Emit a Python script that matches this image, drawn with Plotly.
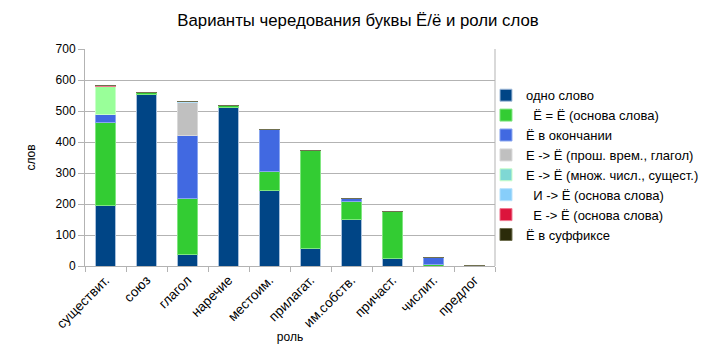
import plotly.graph_objects as go

categories = ["существит.", "союз", "глагол", "наречие", "местоим.", "прилагат.",
              "им.собств.", "причаст.", "числит.", "предлог"]

series_names = [
    "одно слово",
    "\u00a0\u00a0Ё = Ё (основа слова)",
    "Ё в окончании",
    "Е -> Ё (прош. врем., глагол)",
    "Е -> Ё (множ. числ., сущест.)",
    "\u00a0\u00a0И -> Ё (основа слова)",
    "\u00a0\u00a0Е -> Ё (основа слова)",
    "Ё в суффиксе",
]

odno_slovo = [195, 553, 36, 511, 243, 56, 149, 23, 0, 1]
osnova_e = [267, 8, 181, 7, 61, 316, 58, 152, 6, 0]
okonchanie = [28, 0, 205, 0, 137, 0, 11, 0, 23, 0]
prosh_vrem = [0, 0, 105, 0, 0, 0, 0, 0, 0, 0]
mnozh_chisl = [88, 0, 0, 0, 0, 0, 0, 0, 0, 0]
i_to_yo = [0, 0, 4, 0, 0, 0, 0, 0, 0, 0]
e_to_yo = [3, 0, 0, 0, 0, 0, 0, 0, 0, 0]
suffiks = [0, 0, 0, 0, 0, 0, 0, 0, 0, 0]

values = [odno_slovo, osnova_e, okonchanie, prosh_vrem, mnozh_chisl, i_to_yo, e_to_yo, suffiks]
fills = ["#004586", "#33cc33", "#4169e1", "#c0c0c0", "#99ff99", "#87cefa", "#dc143c", "#1e2b07"]
legend_fills = ["#004586", "#33cc33", "#4169e1", "#c0c0c0", "#7fd8d4", "#87cefa", "#dc143c", "#2b2b0a"]
outlines = ["#a8c0dc", "#80e680", "#8aa6f0", "#d9d9d9", "#c8ffc8", "#b8e2fc", "#f07890", "#707050"]

fig = go.Figure()
for i, (name, vals) in enumerate(zip(series_names, values)):
    same = fills[i] == legend_fills[i]
    fig.add_trace(go.Bar(
        x=categories, y=vals, name=name,
        marker=dict(color=fills[i], line=dict(color=outlines[i], width=1)),
        legendgroup=str(i), showlegend=same,
    ))
    if not same:
        fig.add_trace(go.Bar(
            x=[None], y=[None], name=name,
            marker=dict(color=legend_fills[i], line=dict(color=outlines[i], width=1)),
            legendgroup=str(i), showlegend=True,
        ))

# page body has an 8px default margin, so the figure is 8px smaller
fig.update_layout(
    width=710, height=347,
    barmode="stack", bargap=0.49,
    plot_bgcolor="white", paper_bgcolor="white",
    font=dict(family="Liberation Sans, Arial, sans-serif", size=12, color="#000000"),
    margin=dict(l=77, r=223, t=41, b=89, autoexpand=False),
    title=dict(text="Варианты чередования буквы Ё/ё и роли слов",
               x=0.493, xanchor="center", y=0.965, yanchor="middle",
               font=dict(size=16.8, color="#000000")),
    legend=dict(x=0.978, xanchor="left", y=0.856, yanchor="top",
                traceorder="normal", font=dict(size=13, color="#000000"),
                itemwidth=30, tracegroupgap=0, bgcolor="rgba(0,0,0,0)"),
    showlegend=True,
)
fig.update_xaxes(
    title=dict(text="роль", font=dict(size=12), standoff=2),
    tickangle=-45, tickfont=dict(size=13.5, color="#000000"),
    showline=True, linecolor="#b3b3b3", linewidth=1,
    ticks="outside", tickson="boundaries", ticklen=5, tickcolor="#b3b3b3",
    mirror=False, showgrid=False, automargin=False,
)
fig.update_yaxes(
    title=dict(text="слов", font=dict(size=12), standoff=17),
    range=[0, 700], dtick=100, tickfont=dict(size=12, color="#000000"),
    showline=True, linecolor="#b3b3b3", linewidth=1,
    ticks="outside", ticklen=6, tickcolor="#b3b3b3",
    showgrid=True, gridcolor="#b3b3b3", gridwidth=1, zeroline=False, automargin=False,
)
fig.add_shape(type="line", xref="paper", yref="paper", x0=1, x1=1, y0=0, y1=1,
              line=dict(color="#b3b3b3", width=1))

fig.write_html("out.html")
